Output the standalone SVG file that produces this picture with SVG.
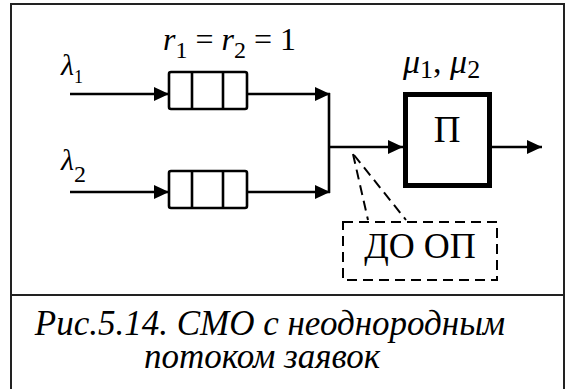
<svg xmlns="http://www.w3.org/2000/svg" width="565" height="389" viewBox="0 0 565 389">
<defs>
<marker id="ah" markerUnits="userSpaceOnUse" markerWidth="15" markerHeight="14" refX="15" refY="7" orient="auto">
<path d="M0,0 L15,7 L0,14 z" fill="#000"/>
</marker>
</defs>
<rect width="565" height="389" fill="#fff"/>
<g id="frame" stroke="#222" stroke-width="2" fill="none">
<path d="M11,389 V4 H564 V389 M11,295 H564"/>
</g>
<g id="connectors" stroke="#000" stroke-width="2.6" fill="none">
<line x1="70" y1="94" x2="169" y2="94" marker-end="url(#ah)"/>
<line x1="70" y1="192" x2="169" y2="192" marker-end="url(#ah)"/>
<line x1="247" y1="94" x2="330" y2="94" marker-end="url(#ah)"/>
<line x1="247" y1="192" x2="330" y2="192" marker-end="url(#ah)"/>
<line x1="329" y1="93" x2="329" y2="193"/>
<line x1="329" y1="147" x2="403" y2="147" marker-end="url(#ah)"/>
<line x1="492" y1="147" x2="542" y2="147" marker-end="url(#ah)"/>
<g stroke-width="2" stroke-dasharray="10,6">
<line x1="353" y1="154" x2="368" y2="220"/>
<line x1="354" y1="155" x2="406" y2="220"/>
</g>
</g>
<g id="queue1" stroke="#000" stroke-width="2.6" fill="#fff">
<rect x="169" y="72" width="78" height="37" rx="2"/>
<line x1="192" y1="72" x2="192" y2="109"/>
<line x1="223" y1="72" x2="223" y2="109"/>
</g>
<g id="queue2" stroke="#000" stroke-width="2.6" fill="#fff">
<rect x="169" y="171" width="78" height="37" rx="2"/>
<line x1="192" y1="171" x2="192" y2="208"/>
<line x1="223" y1="171" x2="223" y2="208"/>
</g>
<g id="server">
<rect x="405.5" y="94.5" width="84" height="91" fill="#fff" stroke="#000" stroke-width="5"/>
<text x="447" y="142" font-size="37" text-anchor="middle" font-family="Liberation Serif">П</text>
</g>
<g id="buffer">
<rect x="343" y="222" width="154" height="58" fill="none" stroke="#000" stroke-width="2" stroke-dasharray="10,6"/>
<text x="420" y="258" font-size="36" text-anchor="middle" font-family="Liberation Serif">ДО ОП</text>
</g>
<text x="61" y="75" font-size="30" font-family="Liberation Serif"><tspan font-style="italic">λ</tspan><tspan font-size="18" dy="8">1</tspan></text>
<text x="61" y="170" font-size="30" font-family="Liberation Serif"><tspan font-style="italic">λ</tspan><tspan font-size="24" dy="12">2</tspan></text>
<text x="163" y="50" font-size="32" font-family="Liberation Serif"><tspan font-style="italic">r</tspan><tspan font-size="24" dy="8">1</tspan><tspan dy="-8"> = </tspan><tspan font-style="italic">r</tspan><tspan font-size="24" dy="8">2</tspan><tspan dy="-8"> = 1</tspan></text>
<text x="403" y="73" font-size="34" font-family="Liberation Serif"><tspan font-style="italic">μ</tspan><tspan font-size="26" dy="5">1</tspan><tspan dy="-5">, </tspan><tspan font-style="italic">μ</tspan><tspan font-size="26" dy="5">2</tspan></text>
<text x="270" y="335" font-size="35" text-anchor="middle" font-family="Liberation Serif" font-style="italic">Рис.5.14. СМО с неоднородным</text>
<text x="262" y="368" font-size="35" text-anchor="middle" font-family="Liberation Serif" font-style="italic">потоком заявок</text>
</svg>
